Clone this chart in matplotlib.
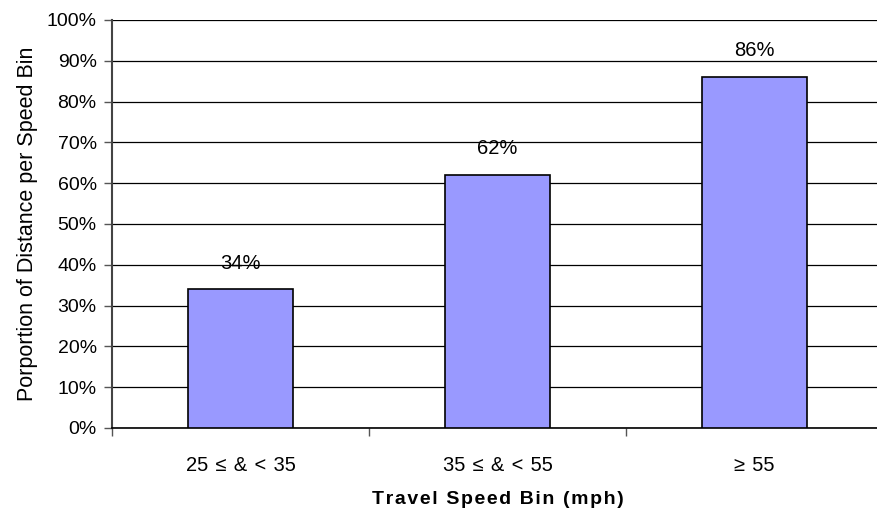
import matplotlib
matplotlib.use('Agg')
import matplotlib.pyplot as plt
from matplotlib.ticker import PercentFormatter

plt.rcParams['font.family'] = ['Liberation Sans', 'DejaVu Sans']

categories = ['25 \u2264 & < 35', '35 \u2264 & < 55', '\u2265 55']
shares = [0.34, 0.62, 0.86]
labels = ['34%', '62%', '86%']

fig = plt.figure(figsize=(8.78, 5.12), dpi=100)
ax = fig.add_axes([112/878, 84/512, 771/878, 408/512])

xs = range(len(categories))
bars = ax.bar(xs, shares, width=0.41, color='#9999ff', edgecolor='black',
              linewidth=1.2, zorder=3)

for bar, lab in zip(bars, labels):
    ax.annotate(lab, (bar.get_x() + bar.get_width() / 2, bar.get_height()),
                xytext=(0, 12), textcoords='offset points',
                ha='center', va='bottom', fontsize=14.5)

ax.set_xlim(-0.5, len(categories) - 0.5)
ax.set_ylim(0, 1.0)
ax.set_yticks([i / 10 for i in range(11)])
ax.yaxis.set_major_formatter(PercentFormatter(1.0, decimals=0))
ax.grid(axis='y', color='black', linewidth=0.9, zorder=0)

ax.set_xticks(xs)
ax.set_xticklabels([c.replace(' ', ' \u200a') for c in categories], fontsize=14.5)
ax.set_xticks([i - 0.5 for i in range(len(categories) + 1)], minor=True)
ax.tick_params(axis='x', which='major', length=0, pad=20)
ax.tick_params(axis='x', which='minor', length=6, width=1, color='#555555')
ax.tick_params(axis='y', labelsize=14, length=6, width=1, color='#555555', pad=5)

for side in ['top', 'right']:
    ax.spines[side].set_visible(False)
ax.spines['left'].set_color('#444444')
ax.spines['left'].set_linewidth(1.5)
ax.spines['bottom'].set_linewidth(1.2)

ax.set_ylabel('Porportion of Distance per Speed Bin', fontsize=15.5, labelpad=6)
xlab = '\u200a'.join('Travel Speed Bin (mph)')
ax.set_xlabel(xlab, fontsize=14, fontweight='bold', labelpad=12)

fig.savefig('out.png', dpi=100)
